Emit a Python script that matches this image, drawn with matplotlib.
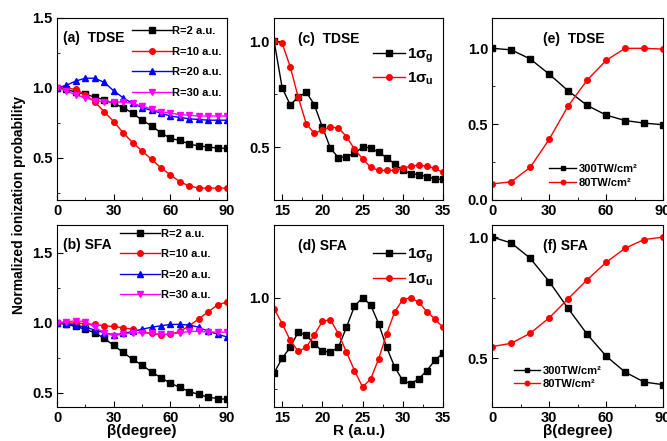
import numpy as np
import matplotlib
matplotlib.use("Agg")
import matplotlib.pyplot as plt
from matplotlib.ticker import MultipleLocator

plt.rcParams['font.family'] = ['Liberation Sans', 'DejaVu Sans']
plt.rcParams['font.weight'] = 'bold'
plt.rcParams['mathtext.fontset'] = 'custom'
plt.rcParams['mathtext.rm'] = 'Liberation Sans:bold'
plt.rcParams['mathtext.it'] = 'Liberation Sans:bold'

# angle scans, panels (a) and (b)
beta = np.arange(0, 91, 5)
a_r2 = [1.0, 0.99, 0.97, 0.955, 0.935, 0.915, 0.89, 0.86, 0.82, 0.77, 0.73, 0.68, 0.64, 0.625, 0.60, 0.585, 0.58, 0.57, 0.57]
a_r10 = [1.0, 1.0, 0.99, 0.95, 0.90, 0.83, 0.76, 0.68, 0.61, 0.55, 0.49, 0.43, 0.38, 0.33, 0.30, 0.285, 0.285, 0.285, 0.285]
a_r20 = [1.0, 1.02, 1.05, 1.07, 1.07, 1.04, 0.98, 0.93, 0.89, 0.86, 0.84, 0.82, 0.80, 0.79, 0.78, 0.775, 0.77, 0.77, 0.77]
a_r30 = [1.0, 0.98, 0.95, 0.93, 0.91, 0.90, 0.90, 0.90, 0.89, 0.87, 0.85, 0.83, 0.82, 0.81, 0.805, 0.80, 0.80, 0.80, 0.80]

b_r2 = [1.0, 0.99, 0.975, 0.955, 0.93, 0.89, 0.84, 0.79, 0.74, 0.70, 0.65, 0.61, 0.57, 0.54, 0.51, 0.49, 0.47, 0.46, 0.455]
b_r10 = [1.0, 1.0, 1.0, 0.995, 0.99, 0.98, 0.975, 0.965, 0.955, 0.94, 0.925, 0.915, 0.92, 0.94, 0.98, 1.03, 1.08, 1.13, 1.15]
b_r20 = [1.0, 0.995, 0.985, 0.97, 0.95, 0.93, 0.915, 0.925, 0.94, 0.955, 0.97, 0.98, 0.99, 0.99, 0.985, 0.97, 0.94, 0.92, 0.90]
b_r30 = [1.0, 1.01, 1.015, 1.01, 0.97, 0.93, 0.91, 0.92, 0.93, 0.93, 0.925, 0.92, 0.92, 0.93, 0.94, 0.94, 0.935, 0.935, 0.935]

# R scans, panels (c) and (d)
R = np.arange(14, 36)
c_g = [1.0, 0.78, 0.70, 0.735, 0.76, 0.70, 0.595, 0.495, 0.45, 0.455, 0.47, 0.50, 0.497, 0.475, 0.45, 0.42, 0.39, 0.375, 0.37, 0.36, 0.35, 0.347]
c_u = [1.0, 0.99, 0.88, 0.735, 0.61, 0.565, 0.58, 0.595, 0.59, 0.55, 0.49, 0.445, 0.405, 0.39, 0.39, 0.39, 0.40, 0.41, 0.415, 0.41, 0.40, 0.38]
d_g = [0.794, 0.834, 0.864, 0.906, 0.897, 0.874, 0.853, 0.851, 0.864, 0.919, 0.977, 1.0, 0.981, 0.929, 0.864, 0.81, 0.773, 0.764, 0.777, 0.80, 0.828, 0.848]
d_u = [0.97, 0.929, 0.883, 0.853, 0.864, 0.898, 0.935, 0.94, 0.901, 0.851, 0.80, 0.755, 0.776, 0.832, 0.901, 0.961, 0.995, 1.0, 0.988, 0.962, 0.942, 0.919]

# intensity scans, panels (e) and (f)
beta10 = np.arange(0, 91, 10)
e_300 = [1.0, 0.99, 0.93, 0.83, 0.72, 0.624, 0.56, 0.524, 0.507, 0.496]
e_80 = [0.106, 0.12, 0.215, 0.40, 0.62, 0.79, 0.92, 1.0, 1.0, 0.995]
f_300 = [1.0, 0.976, 0.913, 0.817, 0.706, 0.60, 0.51, 0.444, 0.403, 0.392]
f_80 = [0.549, 0.5625, 0.604, 0.667, 0.746, 0.824, 0.896, 0.954, 0.99, 1.0]

fig = plt.figure(figsize=(6.67, 4.41), dpi=100)
lefts = [0.0855, 0.411, 0.738]
widths = [0.255, 0.253, 0.256]
bottoms = [0.5465, 0.0771]
h = 0.4127
axs = [[fig.add_axes([lefts[c], bottoms[r], widths[c], h]) for c in range(3)] for r in range(2)]

def style(ax, xlim, ylim, xmaj, xmin, ymaj, ymin):
    ax.set_xlim(*xlim)
    ax.set_ylim(*ylim)
    ax.xaxis.set_major_locator(MultipleLocator(xmaj))
    ax.xaxis.set_minor_locator(MultipleLocator(xmin))
    ax.yaxis.set_major_locator(MultipleLocator(ymaj))
    ax.yaxis.set_minor_locator(MultipleLocator(ymin))
    ax.tick_params(which='both', direction='in', top=False, right=False)
    ax.tick_params(which='major', length=4, labelsize=10.5, pad=3)
    ax.tick_params(which='minor', length=2)
    for lab in ax.get_xticklabels() + ax.get_yticklabels():
        lab.set_fontweight('bold')

ms = 4
lw = 1.0
leg4 = dict(frameon=False, handlelength=3.6, handletextpad=0.05, labelspacing=0.95,
            borderaxespad=0.0, borderpad=0.0, prop={'weight': 'bold', 'size': 8})
leg_int = dict(frameon=False, handlelength=2.4, handletextpad=0.25, labelspacing=0.3,
               borderaxespad=0.0, borderpad=0.0, markerscale=0.8,
               prop={'weight': 'bold', 'size': 8})

# (a)
ax = axs[0][0]
ax.plot(beta, a_r2, '-s', color='black', ms=ms, lw=lw, label='R=2 a.u.')
ax.plot(beta, a_r10, '-o', color='red', ms=ms, lw=lw, label='R=10 a.u.')
ax.plot(beta, a_r20, '-^', color='blue', ms=ms, lw=lw, label='R=20 a.u.')
ax.plot(beta, a_r30, '-v', color='magenta', ms=ms, lw=lw, label='R=30 a.u.')
style(ax, (0, 90), (0.2, 1.5), 30, 15, 0.5, 0.25)
ax.text(0.035, 0.87, '(a)  TDSE', transform=ax.transAxes, fontsize=10, fontweight='bold')
ax.legend(loc='upper left', bbox_to_anchor=(0.44, 0.955), **leg4)

# (b)
ax = axs[1][0]
ax.plot(beta, b_r2, '-s', color='black', ms=ms, lw=lw, label='R=2 a.u.')
ax.plot(beta, b_r10, '-o', color='red', ms=ms, lw=lw, label='R=10 a.u.')
ax.plot(beta, b_r20, '-^', color='blue', ms=ms, lw=lw, label='R=20 a.u.')
ax.plot(beta, b_r30, '-v', color='magenta', ms=ms, lw=lw, label='R=30 a.u.')
style(ax, (0, 90), (0.4, 1.7), 30, 15, 0.5, 0.25)
ax.text(0.035, 0.87, '(b) SFA', transform=ax.transAxes, fontsize=10, fontweight='bold')
ax.legend(loc='upper left', bbox_to_anchor=(0.37, 0.98), **leg4)
ax.set_xlabel('β(degree)', fontsize=11, fontweight='bold', labelpad=-1)

# (c)
ax = axs[0][1]
ax.plot(R, c_g, '-s', color='black', ms=ms, lw=lw, label=r'1$\sigma_{g}$')
ax.plot(R, c_u, '-o', color='red', ms=ms, lw=lw, label=r'1$\sigma_{u}$')
style(ax, (14, 35), (0.25, 1.11), 5, 2.5, 0.5, 0.25)
ax.text(0.14, 0.86, '(c)  TDSE', transform=ax.transAxes, fontsize=10, fontweight='bold')
ax.legend(loc='upper right', bbox_to_anchor=(1.0, 0.895), frameon=False,
          handlelength=2.1, handletextpad=0.1, labelspacing=0.4, borderaxespad=0.2,
          prop={'weight': 'bold', 'size': 11})

# (d)
ax = axs[1][1]
ax.plot(R, d_g, '-s', color='black', ms=ms, lw=lw, label=r'1$\sigma_{g}$')
ax.plot(R, d_u, '-o', color='red', ms=ms, lw=lw, label=r'1$\sigma_{u}$')
style(ax, (14, 35), (0.70, 1.20), 5, 2.5, 0.5, 0.25)
ax.text(0.14, 0.86, '(d) SFA', transform=ax.transAxes, fontsize=10, fontweight='bold')
ax.legend(loc='upper right', bbox_to_anchor=(1.0, 0.93), frameon=False,
          handlelength=2.1, handletextpad=0.1, labelspacing=0.4, borderaxespad=0.2,
          prop={'weight': 'bold', 'size': 11})
ax.set_xlabel('R (a.u.)', fontsize=11, fontweight='bold', labelpad=-1)

# (e)
ax = axs[0][2]
ax.plot(beta10, e_300, '-s', color='black', ms=ms, lw=lw, label='300TW/cm²')
ax.plot(beta10, e_80, '-o', color='red', ms=ms, lw=lw, label='80TW/cm²')
style(ax, (0, 90), (0.0, 1.2), 30, 15, 0.5, 0.25)
ax.text(0.3, 0.86, '(e)  TDSE', transform=ax.transAxes, fontsize=10, fontweight='bold')
ax.legend(loc='upper left', bbox_to_anchor=(0.335, 0.196), **leg_int)

# (f)
ax = axs[1][2]
ax.plot(beta10, f_300, '-s', color='black', ms=ms, lw=lw, label='300TW/cm²')
ax.plot(beta10, f_80, '-o', color='red', ms=ms, lw=lw, label='80TW/cm²')
style(ax, (0, 90), (0.3, 1.05), 30, 15, 0.5, 0.25)
ax.text(0.3, 0.86, '(f) SFA', transform=ax.transAxes, fontsize=10, fontweight='bold')
ax.legend(loc='upper left', bbox_to_anchor=(0.125, 0.225), **leg_int)
ax.set_xlabel('β(degree)', fontsize=11, fontweight='bold', labelpad=-1)

fig.text(0.028, 0.535, 'Normalized ionization probability', rotation=90, va='center', ha='center',
         fontsize=10, fontweight='bold')

fig.savefig('out.png', dpi=100)
